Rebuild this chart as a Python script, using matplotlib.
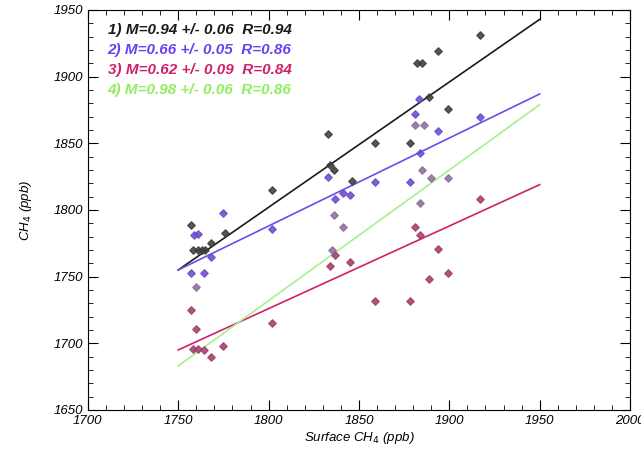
import numpy as np
import matplotlib
matplotlib.use('Agg')
import matplotlib.pyplot as plt
from matplotlib.ticker import MultipleLocator

# Donnees (ppb)
x1 = [1757, 1758, 1761, 1763, 1765, 1768, 1776, 1802, 1833, 1834, 1836, 1846,
      1859, 1878, 1882, 1885, 1889, 1894, 1899, 1917]
y1 = [1789, 1770, 1770, 1770, 1770, 1775, 1783, 1815, 1857, 1834, 1830, 1822,
      1850, 1850, 1910, 1910, 1885, 1919, 1876, 1931]

x2 = [1757, 1759, 1761, 1764, 1768, 1775, 1802, 1833, 1837, 1841, 1845, 1859,
      1878, 1881, 1883, 1884, 1894, 1917]
y2 = [1753, 1781, 1782, 1753, 1765, 1798, 1786, 1825, 1808, 1813, 1811, 1821,
      1821, 1872, 1883, 1843, 1859, 1870]

x3 = [1757, 1760, 1758, 1761, 1764, 1768, 1775, 1802, 1834, 1837, 1845, 1859,
      1878, 1881, 1884, 1889, 1894, 1899, 1917]
y3 = [1725, 1711, 1696, 1696, 1695, 1690, 1698, 1715, 1758, 1766, 1761, 1732,
      1732, 1787, 1781, 1748, 1771, 1753, 1808]

x4 = [1760, 1836, 1835, 1841, 1881, 1886, 1885, 1890, 1899, 1884]
y4 = [1742, 1796, 1770, 1787, 1864, 1864, 1830, 1824, 1824, 1805]

# pentes / ordonnees des droites (affichees dans la legende)
slopes = [0.94, 0.66, 0.62, 0.98]
errs = [0.06, 0.05, 0.09, 0.06]
rvals = [0.94, 0.86, 0.84, 0.86]
y_at_1750 = [1755, 1755, 1695, 1683]

line_colors = ['#1a1a1a', '#6a4cf0', '#d0206a', '#a8f08a']
text_colors = ['#1a1a1a', '#6a40f0', '#d0206a', '#90ee60']
mark_colors = ['#3a3a3a', '#6a48c8', '#a03a68', '#8a6a98']

plt.rcParams['font.family'] = ['Liberation Sans', 'DejaVu Sans']

fig = plt.figure(figsize=(6.41, 4.54), dpi=100)
ax = fig.add_axes([0.137, 0.097, 0.846, 0.881])

series = [(x1, y1), (x2, y2), (x3, y3), (x4, y4)]
xl = np.array([1750, 1950])
for i, (xs, ys) in enumerate(series):
    ax.scatter(xs, ys, marker='D', s=14, color=mark_colors[i],
               edgecolors=mark_colors[i], alpha=0.85, zorder=3)
    ax.plot(xl, y_at_1750[i] + slopes[i] * (xl - 1750), color=line_colors[i],
            lw=1.2, zorder=2)

for i in range(4):
    ax.text(1711, 1935 - i * 15,
            f"{i+1}) M={slopes[i]:.2f} +/- {errs[i]:.2f}  R={rvals[i]:.2f}",
            color=text_colors[i], fontsize=11, style='italic',
            fontweight='bold', va='center')

ax.set_xlim(1700, 2000)
ax.set_ylim(1650, 1950)
ax.xaxis.set_major_locator(MultipleLocator(50))
ax.xaxis.set_minor_locator(MultipleLocator(10))
ax.yaxis.set_major_locator(MultipleLocator(50))
ax.yaxis.set_minor_locator(MultipleLocator(10))
ax.tick_params(which='both', direction='in', top=True, right=True)
ax.tick_params(which='major', length=7, labelsize=9.5)
ax.tick_params(which='minor', length=3.5)
for lab in ax.get_xticklabels() + ax.get_yticklabels():
    lab.set_style('italic')

ax.set_xlabel('Surface CH$_4$ (ppb)', style='italic', fontsize=9.5, labelpad=2)
ax.set_ylabel('CH$_4$ (ppb)', style='italic', fontsize=9.5, labelpad=14)

fig.savefig('out.png', dpi=100)
